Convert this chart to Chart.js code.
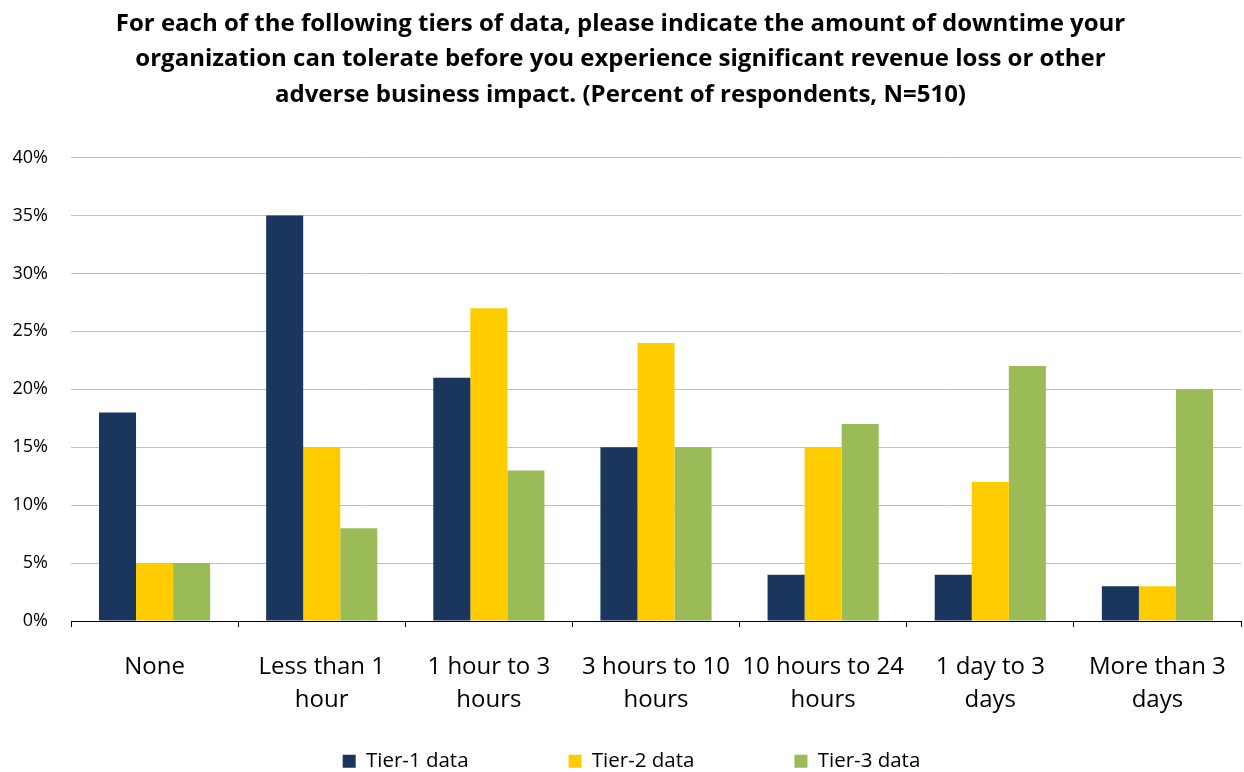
<!DOCTYPE html>
<html><head><meta charset="utf-8">
<script src="https://cdn.jsdelivr.net/npm/chart.js@4/dist/chart.umd.min.js"></script>
<style>html,body{margin:0;padding:0;background:#fff}#wrap{width:1244px;height:772px}</style>
</head><body><div id="wrap"><canvas id="c" width="1244" height="772"></canvas></div>
<script>
const categories = [["None"],["Less than 1","hour"],["1 hour to 3","hours"],["3 hours to 10","hours"],["10 hours to 24","hours"],["1 day to 3","days"],["More than 3","days"]];
const tier1 = [18,35,21,15,4,4,3];
const tier2 = [5,15,27,24,15,12,3];
const tier3 = [5,8,13,15,17,22,20];
const seriesNames = ["Tier-1 data","Tier-2 data","Tier-3 data"];
const titleLines = ["For each of the following tiers of data, please indicate the amount of downtime your","organization can tolerate before you experience significant revenue loss or other","adverse business impact. (Percent of respondents, N=510)"];
const FONT = "'Open Sans', Lato, sans-serif";

// Legend: wide horizontal spacing but compact height, placed at the bottom
const legendPlacer = {
  id: 'legendPlacer',
  afterInit(chart) {
    const lg = chart.legend;
    const origFit = lg.fit;
    lg.fit = function () { origFit.call(this); this.height = 41; };
    const origDraw = lg.draw;
    lg.draw = function () {
      const t = this.top, b = this.bottom, l = this.left, r = this.right;
      this.top = 651; this.bottom = 772; this.left = l + 11; this.right = r + 11;
      origDraw.call(this);
      this.top = t; this.bottom = b; this.left = l; this.right = r;
    };
  }
};

new Chart(document.getElementById('c'), {
  type: 'bar',
  data: {
    labels: categories,
    datasets: [
      {label: seriesNames[0], data: tier1, backgroundColor: '#1B365D'},
      {label: seriesNames[1], data: tier2, backgroundColor: '#FFCC00'},
      {label: seriesNames[2], data: tier3, backgroundColor: '#9BBB59'}
    ]
  },
  plugins: [legendPlacer],
  options: {
    responsive: false, animation: false,
    layout: {padding: {left: 0, right: 3, top: 0, bottom: 0}},
    datasets: {bar: {categoryPercentage: 0.665, barPercentage: 1}},
    plugins: {
      tooltip: {enabled: false},
      title: {display: true, text: titleLines, color: '#000', font: {family: FONT, size: 24, weight: 'bold', lineHeight: 1.48}, padding: {top: 6, bottom: 45}},
      legend: {position: 'bottom', labels: {color: '#000', font: {family: FONT, size: 20.5}, boxWidth: 13, boxHeight: 13, padding: 100}}
    },
    scales: {
      x: {
        grid: {display: true, drawOnChartArea: false, drawTicks: true, tickLength: 6, color: '#000', offset: true},
        border: {display: true, color: '#000', width: 1},
        ticks: {color: '#000', font: {family: FONT, size: 24, lineHeight: 1.4}, maxRotation: 0, autoSkip: false, padding: 23},
        afterFit: s => { s.height = 110; s.paddingLeft = 0; s.paddingRight = 0; }
      },
      y: {
        min: 0, max: 40,
        grid: {color: '#BFBFBF', drawTicks: false},
        border: {display: false},
        ticks: {stepSize: 5, color: '#000', font: {family: FONT, size: 18}, padding: 23, callback: v => v + '%'},
        afterFit: s => { s.width = 71; s.paddingTop = 0; s.paddingBottom = 0; }
      }
    }
  }
});
</script></body></html>
